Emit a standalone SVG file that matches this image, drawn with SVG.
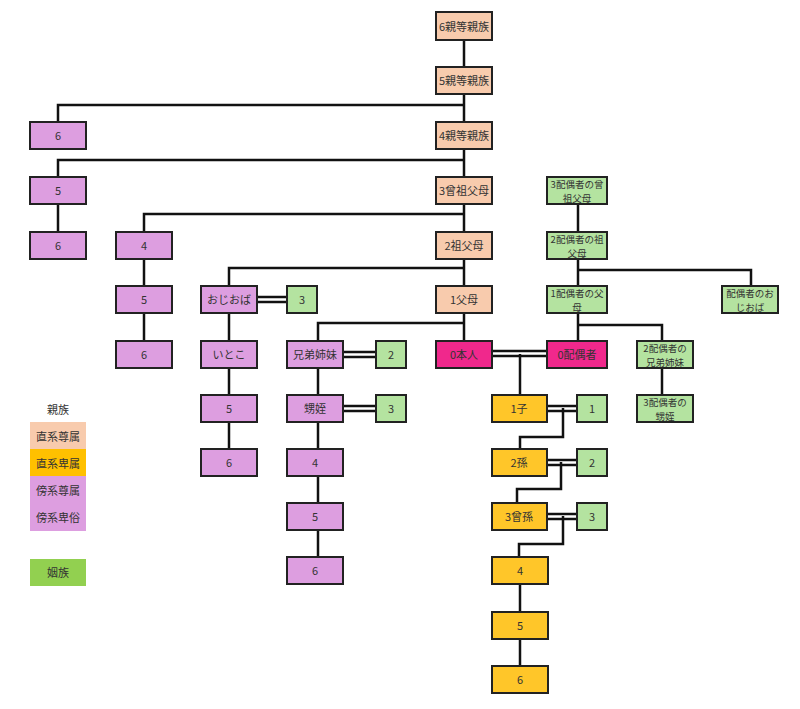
<svg xmlns="http://www.w3.org/2000/svg" width="800" height="709" viewBox="0 0 800 709">
<style>
text{font-family:"Noto Sans CJK JP","Liberation Sans",sans-serif;font-size:11px;fill:#333;text-anchor:middle;dominant-baseline:central}
.b rect{stroke:#222;stroke-width:2}
.p{fill:#f8cbad}.o{fill:#ffc629}.k{fill:#dd9ee0}.m{fill:#f0288c}.g{fill:#b4e3a0}
.c line,.c polyline{stroke:#111;stroke-width:2.5;fill:none}
.s{font-size:9.5px}
</style>
<rect width="800" height="709" fill="#fff"/>
<g class="c">
<line x1="464" y1="40" x2="464" y2="341"/>
<polyline points="58,122 58,105 464,105"/>
<polyline points="58,177 58,160 464,160"/>
<line x1="58" y1="204" x2="58" y2="232"/>
<polyline points="144,232 144,214 464,214"/>
<line x1="144" y1="259" x2="144" y2="341"/>
<polyline points="229,286 229,268 464,268"/>
<line x1="229" y1="313" x2="229" y2="449"/>
<polyline points="318,341 318,323 464,323"/>
<line x1="318" y1="368" x2="318" y2="557"/>
<line x1="578" y1="204" x2="578" y2="341"/>
<polyline points="578,270 751,270 751,286"/>
<polyline points="578,325 662,325 662,341"/>
<line x1="662" y1="368" x2="662" y2="395"/>
<line x1="492" y1="351" x2="547" y2="351" stroke-width="1.5"/>
<line x1="492" y1="356" x2="547" y2="356" stroke-width="1.5"/>
<line x1="520" y1="354" x2="520" y2="395"/>
<g stroke-width="1.5">
<line x1="257" y1="297" x2="287" y2="297"/><line x1="257" y1="302" x2="287" y2="302"/>
<line x1="343" y1="352" x2="376" y2="352"/><line x1="343" y1="357" x2="376" y2="357"/>
<line x1="343" y1="406" x2="376" y2="406"/><line x1="343" y1="411" x2="376" y2="411"/>
<line x1="547" y1="406" x2="577" y2="406"/><line x1="547" y1="411" x2="577" y2="411"/>
<line x1="547" y1="460" x2="577" y2="460"/><line x1="547" y1="465" x2="577" y2="465"/>
<line x1="547" y1="514" x2="577" y2="514"/><line x1="547" y1="519" x2="577" y2="519"/>
</g>
<polyline points="563,408 563,437 520,437 520,449"/>
<polyline points="561,462 561,489 517,489 517,503"/>
<polyline points="563,516 563,544 519,544 519,557"/>
<line x1="520" y1="584" x2="520" y2="666"/>
</g>
<g class="b">
<g id="n6"><rect class="p" x="436" y="12" width="56" height="28"/><text x="464" y="26">6親等親族</text></g>
<g id="n5"><rect class="p" x="436" y="67" width="56" height="27"/><text x="464" y="80">5親等親族</text></g>
<g id="n4"><rect class="p" x="436" y="122" width="56" height="27"/><text x="464" y="135">4親等親族</text></g>
<g id="n3"><rect class="p" x="436" y="177" width="56" height="27"/><text x="464" y="190">3曾祖父母</text></g>
<g id="n2"><rect class="p" x="436" y="232" width="56" height="27"/><text x="464" y="245">2祖父母</text></g>
<g id="n1"><rect class="p" x="436" y="286" width="56" height="27"/><text x="464" y="299">1父母</text></g>
<g id="self"><rect class="m" x="436" y="341" width="56" height="27"/><text x="464" y="354">0本人</text></g>
<g id="sp"><rect class="m" x="547" y="341" width="60" height="27"/><text x="577" y="354">0配偶者</text></g>
<g id="a6"><rect class="k" x="30" y="122" width="56" height="27"/><text x="58" y="135">6</text></g>
<g id="a5"><rect class="k" x="30" y="177" width="56" height="27"/><text x="58" y="190">5</text></g>
<g id="a6b"><rect class="k" x="30" y="232" width="56" height="27"/><text x="58" y="245">6</text></g>
<g id="b4"><rect class="k" x="116" y="232" width="56" height="27"/><text x="144" y="245">4</text></g>
<g id="b5"><rect class="k" x="116" y="286" width="56" height="27"/><text x="144" y="299">5</text></g>
<g id="b6"><rect class="k" x="116" y="341" width="56" height="27"/><text x="144" y="354">6</text></g>
<g id="c3"><rect class="k" x="201" y="286" width="56" height="27"/><text x="229" y="299">おじおば</text></g>
<g id="c3g"><rect class="g" x="287" y="286" width="30" height="27"/><text x="302" y="299">3</text></g>
<g id="c4"><rect class="k" x="201" y="341" width="56" height="27"/><text x="229" y="354">いとこ</text></g>
<g id="c5"><rect class="k" x="201" y="395" width="56" height="27"/><text x="229" y="408">5</text></g>
<g id="c6"><rect class="k" x="201" y="449" width="56" height="27"/><text x="229" y="462">6</text></g>
<g id="d2"><rect class="k" x="287" y="341" width="56" height="27"/><text x="315" y="354">兄弟姉妹</text></g>
<g id="d2g"><rect class="g" x="376" y="341" width="30" height="27"/><text x="391" y="354">2</text></g>
<g id="d3"><rect class="k" x="287" y="395" width="56" height="27"/><text x="315" y="408">甥姪</text></g>
<g id="d3g"><rect class="g" x="376" y="395" width="30" height="27"/><text x="391" y="408">3</text></g>
<g id="d4"><rect class="k" x="287" y="449" width="56" height="27"/><text x="315" y="462">4</text></g>
<g id="d5"><rect class="k" x="287" y="503" width="56" height="27"/><text x="315" y="516">5</text></g>
<g id="d6"><rect class="k" x="287" y="557" width="56" height="27"/><text x="315" y="570">6</text></g>
<g id="e1"><rect class="o" x="492" y="395" width="55" height="27"/><text x="519" y="408">1子</text></g>
<g id="e1g"><rect class="g" x="577" y="395" width="30" height="27"/><text x="592" y="408">1</text></g>
<g id="e2"><rect class="o" x="492" y="449" width="55" height="27"/><text x="519" y="462">2孫</text></g>
<g id="e2g"><rect class="g" x="577" y="449" width="30" height="27"/><text x="592" y="462">2</text></g>
<g id="e3"><rect class="o" x="492" y="503" width="55" height="27"/><text x="519" y="516">3曾孫</text></g>
<g id="e3g"><rect class="g" x="577" y="503" width="30" height="27"/><text x="592" y="516">3</text></g>
<g id="e4"><rect class="o" x="492" y="557" width="56" height="27"/><text x="520" y="570">4</text></g>
<g id="e5"><rect class="o" x="492" y="612" width="56" height="27"/><text x="520" y="625">5</text></g>
<g id="e6"><rect class="o" x="492" y="666" width="56" height="27"/><text x="520" y="679">6</text></g>
<g id="s3"><rect class="g" x="547" y="177" width="60" height="27"/><text class="s" x="577" y="183.5">3配偶者の曾</text><text class="s" x="577" y="197.5">祖父母</text></g>
<g id="s2"><rect class="g" x="547" y="232" width="60" height="27"/><text class="s" x="577" y="238.5">2配偶者の祖</text><text class="s" x="577" y="252.5">父母</text></g>
<g id="s1"><rect class="g" x="547" y="286" width="60" height="27"/><text class="s" x="577" y="292.5">1配偶者の父</text><text class="s" x="577" y="306.5">母</text></g>
<g id="so"><rect class="g" x="722" y="286" width="56" height="27"/><text class="s" x="750" y="292.5">配偶者のお</text><text class="s" x="750" y="306.5">じおば</text></g>
<g id="ss"><rect class="g" x="637" y="341" width="56" height="27"/><text class="s" x="665" y="347.5">2配偶者の</text><text class="s" x="665" y="361.5">兄弟姉妹</text></g>
<g id="sn"><rect class="g" x="637" y="395" width="56" height="27"/><text class="s" x="665" y="401.5">3配偶者の</text><text class="s" x="665" y="415.5">甥姪</text></g>
</g>
<g id="legend">
<text x="58" y="409">親族</text>
<rect x="30" y="422" width="56" height="28" fill="#f8cbad"/><text x="58" y="436">直系尊属</text>
<rect x="30" y="449" width="56" height="28" fill="#ffc000"/><text x="58" y="463">直系卑属</text>
<rect x="30" y="476" width="56" height="55" fill="#dd9ee0"/><text x="58" y="490">傍系尊属</text><text x="58" y="517">傍系卑俗</text>
<rect x="30" y="559" width="56" height="27" fill="#92d050"/><text x="58" y="572">姻族</text>
</g>
</svg>
